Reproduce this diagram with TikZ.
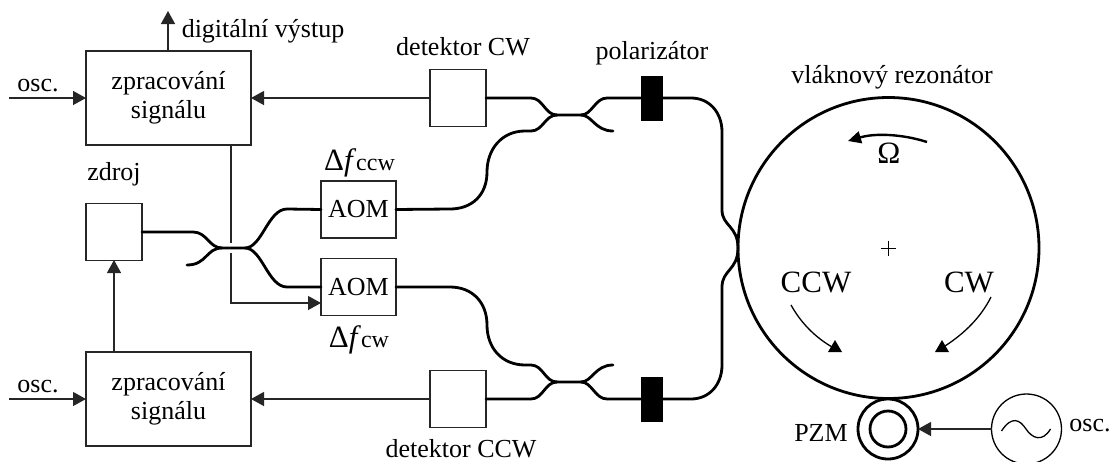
\documentclass[tikz,border=0pt]{standalone}
\usepackage{fontspec}
\setmainfont{Liberation Serif}
\usetikzlibrary{arrows.meta}
\newcommand{\bigsym}[1]{{\fontsize{31}{31}\selectfont #1}}
\newcommand{\subsym}[1]{{\fontsize{24}{24}\selectfont #1}}
\tikzset{
  x=1pt,y=-1pt,
  every node/.style={inner sep=0pt,outer sep=0pt,font=\fontsize{26}{29}\selectfont},
  box/.style={draw=black!85,line width=1.3pt,fill=white,align=center},
  sigbox/.style={box,minimum width=165pt,minimum height=94pt},
  sqbox/.style={box,minimum width=56pt,minimum height=57pt},
  aombox/.style={box,minimum width=75pt,minimum height=57pt},
  polbox/.style={draw=none,fill=black,minimum width=22pt,minimum height=45pt},
  lab/.style={anchor=base},
  sig/.style={line width=1.3pt,draw=black!85},
  sigarrow/.style={sig,-{Triangle[length=13pt,width=14pt]}},
  fibre/.style={line width=2.8pt,line cap=round,draw=black},
  thinc/.style={line width=1.3pt,draw=black,circle},
  fatc/.style={line width=2.8pt,draw=black,circle},
}
\begin{document}
\begin{tikzpicture}
\useasboundingbox (0,0) rectangle (1112,461);

% components
\node[sigbox] (proc1) at (168.5,98) {zpracování\\signálu};
\node[sigbox] (proc2) at (168.5,399) {zpracování\\signálu};
\node[sqbox] (src) at (114,232) {};
\node[aombox] (aom1) at (358.5,209.5) {AOM};
\node[aombox] (aom2) at (358.5,287) {AOM};
\node[sqbox] (det1) at (458,98) {};
\node[sqbox] (det2) at (458,399) {};
\node[polbox] (pol1) at (651.5,98) {};
\node[polbox] (pol2) at (651.5,399) {};
\node[fatc,minimum size=301pt] (ring) at (888.5,248) {};
\node[fatc,minimum size=60pt] (pzm) at (888,429) {};
\node[fatc,minimum size=36pt] (pzmi) at (888,429) {};
\node[thinc,minimum size=70pt] (gen) at (1026.5,429) {};

% free ends
\coordinate (o1) at (9,98);
\coordinate (o2) at (9,399);
\coordinate (dout) at (168,11);
\coordinate (tap) at (231,145);
\coordinate (gapa) at (231,243);
\coordinate (gapb) at (231,253);
\coordinate (bend) at (231,303);
\coordinate (aomin) at (321,303);
\coordinate (srcin) at (114,260);
\coordinate (procout) at (114,352);
\coordinate (doutb) at (168,51);
\coordinate (touch) at (738,248);

% electrical connectors
\draw[sigarrow] (o1) -- (proc1.west);
\draw[sigarrow] (o2) -- (proc2.west);
\draw[sigarrow] (det1.west) -- (proc1.east);
\draw[sigarrow] (det2.west) -- (proc2.east);
\draw[sigarrow] (doutb) -- (dout);
\draw[sigarrow] (procout) -- (srcin);
\draw[sig] (tap) -- (gapa);
\draw[sigarrow] (gapb) -- (bend) -- (aomin);
\draw[sigarrow] (gen.west) -- (pzm.east);

% source coupler
\coordinate (c1a) at (222,248);
\coordinate (c1b) at (245,248);
\coordinate (free1) at (187,265);
\draw[fibre] (src.east) -- (193,232) .. controls (207,232) and (209,248) .. (c1a) -- (c1b)
  .. controls (262,248) and (268,209) .. (287,209) -- (aom1.west);
\draw[fibre] (free1) .. controls (207,265) and (206,248) .. (c1a);
\draw[fibre] (c1b) .. controls (262,248) and (268,287) .. (287,287) -- (aom2.west);

% upper coupler
\coordinate (c2a) at (557,115);
\coordinate (c2b) at (581,115);
\coordinate (free2) at (613,131);
\draw[fibre] (det1.east) -- (531,98) .. controls (543,98) and (545,115) .. (c2a) -- (c2b)
  .. controls (592,115) and (595,98) .. (607,98) -- (pol1.west);
\draw[fibre] (aom1.east) -- (450,209) .. controls (472,209) and (487,195) .. (487,172)
  .. controls (487,149) and (502,131) .. (525,131) -- (531,131) .. controls (543,131) and (545,115) .. (c2a);
\draw[fibre] (c2b) .. controls (592,115) and (595,131) .. (free2);
\draw[fibre] (pol1.east) -- (691,98) .. controls (709,98) and (722,112) .. (722,132) -- (722,210)
  .. controls (722,226) and (738,226) .. (touch);

% lower coupler
\coordinate (c3a) at (557,382);
\coordinate (c3b) at (581,382);
\coordinate (free3) at (613,365);
\draw[fibre] (det2.east) -- (531,399) .. controls (543,399) and (545,382) .. (c3a) -- (c3b)
  .. controls (592,382) and (595,399) .. (607,399) -- (pol2.west);
\draw[fibre] (aom2.east) -- (450,287) .. controls (472,287) and (487,302) .. (487,325)
  .. controls (487,348) and (502,365) .. (525,365) -- (531,365) .. controls (543,365) and (545,382) .. (c3a);
\draw[fibre] (c3b) .. controls (592,382) and (595,365) .. (free3);
\draw[fibre] (pol2.east) -- (691,399) .. controls (709,399) and (722,385) .. (722,365) -- (722,287)
  .. controls (722,270) and (738,270) .. (touch);

% ring interior
\draw[line width=2.4pt,-{Triangle[length=13pt,width=12pt]}] (927,142) .. controls (902,134) and (875,133) .. (848,141);
\draw[line width=1.3pt] (791,305) .. controls (801,323) and (815,337) .. (832,347);
\fill (828,352) -- (842,352) -- (835,340) -- cycle;
\draw[line width=1.3pt] (991,297) .. controls (981,317) and (965,333) .. (945,346);
\fill (935,352) -- (949,352) -- (942,340) -- cycle;
\draw[line width=0.7pt] (881,248) -- (896,248) (888.5,240.5) -- (888.5,255.5);
\draw[line width=1.3pt] (1001.5,431) .. controls (1012,415) and (1020,420) .. (1026,429)
  .. controls (1032,438) and (1042,443) .. (1050.5,429);

% labels
\node[lab] (l1) at (38,91) {osc.};
\node[lab] (l2) at (38,392) {osc.};
\node[lab] (l3) at (263,37) {digitální výstup};
\node[lab] (l4) at (114,180) {zdroj};
\node[lab] (l5) at (463,55) {detektor CW};
\node[lab] (l6) at (652,59) {polarizátor};
\node[lab] (l7) at (892,83) {vláknový rezonátor};
\node[lab] (l8) at (461,457) {detektor CCW};
\node[lab] (l9) at (821,441) {PZM};
\node[lab] (l10) at (1090,431) {osc.};
\node[lab] (l11) at (359.5,170) {\bigsym{Δ\textit{f}}\subsym{ccw}};
\node[lab] (l12) at (359,347) {\bigsym{Δ\textit{f}}\subsym{cw}};
\node[lab] (l13) at (889,163) {\bigsym{Ω}};
\node[lab] (l14) at (816,292) {\bigsym{CCW}};
\node[lab] (l15) at (969,292) {\bigsym{CW}};
\end{tikzpicture}
\end{document}
